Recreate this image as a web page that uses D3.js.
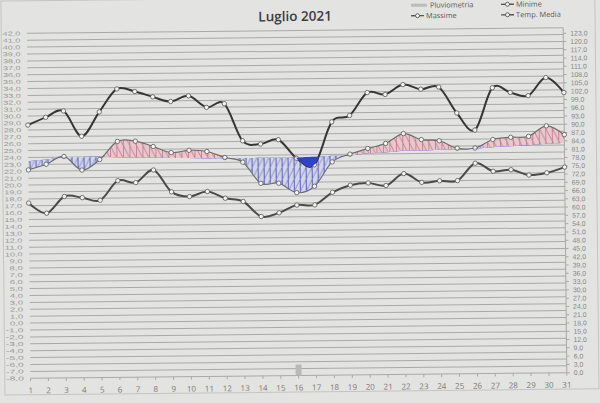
<!DOCTYPE html>
<html><head><meta charset="utf-8">
<script src="https://cdn.jsdelivr.net/npm/d3@7/dist/d3.min.js"></script>
<style>body{margin:0;background:#e3e3e1}svg{display:block}</style>
</head><body>
<svg id="c" width="600" height="403"></svg>
<script>
const days = [1,2,3,4,5,6,7,8,9,10,11,12,13,14,15,16,17,18,19,20,21,22,23,24,25,26,27,28,29,30,31];
const massime = [28.7,29.8,30.7,27.0,30.5,33.8,33.4,32.6,31.9,32.7,31.0,31.5,26.1,25.6,26.2,23.5,22.5,28.7,29.6,32.9,32.6,34.0,33.3,33.6,29.8,27.3,33.4,32.7,32.2,34.8,32.6];
const minime = [17.4,15.9,18.3,18.1,17.7,20.5,20.2,22.0,18.8,18.1,18.8,17.8,17.3,15.1,15.6,16.7,16.7,18.5,19.5,19.8,19.4,21.1,19.8,20.0,20.0,22.5,21.3,21.5,20.7,21.0,21.8];
const media = [22.2,23.0,24.1,22.1,23.6,26.2,26.2,25.4,24.5,24.8,24.6,23.7,23.0,19.9,19.9,18.5,19.4,22.9,24.0,24.8,25.5,26.9,26.0,25.8,24.7,24.7,25.9,26.2,26.3,27.8,26.5];
const normale = [23.5,23.7,24.0,24.0,24.0,23.9,23.8,23.8,23.7,23.7,23.6,23.6,23.6,23.6,23.6,23.6,23.7,23.8,23.8,24.1,24.2,24.4,24.4,24.5,24.5,24.6,24.8,24.9,25.0,25.2,25.3];
const pluviometria = [0,0,0,0,0,0,0,0,0,0,0,0,0,0,0,4,0,0,0,0,0,0,0,0,0,0,0,0,0,0,0];
const leftTicks = d3.range(-8, 43, 1);
const rightTicks = d3.range(0, 124, 3);
const legendItems = [
  {name:"Pluviometria", type:"bar", col:0, row:0},
  {name:"Minime", type:"line", col:1, row:0},
  {name:"Massime", type:"line", col:0, row:1},
  {name:"Temp. Media", type:"line", col:1, row:1}
];

const svg = d3.select("#c");
const g = svg.append("g").attr("transform","rotate(-0.6,297,203)");
const x0 = 28.7, x1 = 565, yT = 30.5, yB = 375.5;
const x = d3.scalePoint().domain(days).range([x0, x1]);
const y = d3.scaleLinear().domain([-8, 42]).range([yB, yT]);
const y2 = d3.scaleLinear().domain([0, 125]).range([yB, yT]);
const curve = d3.curveCardinal.tension(0);
const rows = days.map((d,i)=>({day:d, max:massime[i], min:minime[i], med:media[i], n:normale[i], p:pluviometria[i]}));
const fmt = d => d.toFixed(1).replace(".",",");

g.append("rect").attr("x",3).attr("y",-2).attr("width",594).attr("height",394)
 .attr("fill","none").attr("stroke","#c4c4c2").attr("stroke-width",1);

const defs = svg.append("defs");
const pr = defs.append("pattern").attr("id","hr").attr("patternUnits","userSpaceOnUse")
  .attr("width",6.5).attr("height",13);
pr.append("rect").attr("width",6.5).attr("height",13).attr("fill","#e6c9cf");
pr.append("line").attr("x1",0.5).attr("y1",0).attr("x2",0.5).attr("y2",13).attr("stroke","#c66a80").attr("stroke-width",0.8);
pr.append("line").attr("x1",0).attr("y1",0).attr("x2",6.5).attr("y2",13).attr("stroke","#c66a80").attr("stroke-width",0.8);
const pb = defs.append("pattern").attr("id","hb").attr("patternUnits","userSpaceOnUse")
  .attr("width",6).attr("height",12);
pb.append("rect").attr("width",6).attr("height",12).attr("fill","#d3d5ea");
pb.append("line").attr("x1",0.5).attr("y1",0).attr("x2",0.5).attr("y2",12).attr("stroke","#4652ae").attr("stroke-width",0.9);
pb.append("line").attr("x1",6).attr("y1",0).attr("x2",0).attr("y2",12).attr("stroke","#6a74bf").attr("stroke-width",0.7);

const clipAbove = d3.area().x(d=>x(d.day)).y0(yT-30).y1(d=>y(d.n)).curve(curve);
const clipBelow = d3.area().x(d=>x(d.day)).y0(yB+30).y1(d=>y(d.n)).curve(curve);
defs.append("clipPath").attr("id","ca").append("path").attr("d",clipAbove(rows));
defs.append("clipPath").attr("id","cb").append("path").attr("d",clipBelow(rows));

g.append("g").selectAll("line").data(leftTicks).join("line")
  .attr("x1",x0).attr("x2",x1).attr("y1",d=>y(d)).attr("y2",d=>y(d))
  .attr("stroke","#a9a9a7").attr("stroke-width",1);

g.append("g").selectAll("text").data(leftTicks).join("text")
  .attr("x",22).attr("y",d=>y(d)+2.1).attr("text-anchor","end")
  .attr("font-family","Liberation Sans, Arial, sans-serif").attr("font-size",5.6).attr("fill","#999")
  .attr("textLength",d=>fmt(d).length*4.4).attr("lengthAdjust","spacingAndGlyphs")
  .text(fmt);

g.append("line").attr("x1",x1).attr("x2",x1).attr("y1",yT).attr("y2",yB).attr("stroke","#a9a9a7");
g.append("g").selectAll("line").data(rightTicks).join("line")
  .attr("x1",x1).attr("x2",x1+3).attr("y1",d=>y2(d)).attr("y2",d=>y2(d)).attr("stroke","#a9a9a7");
g.append("g").selectAll("text").data(rightTicks).join("text")
  .attr("x",572).attr("y",d=>y2(d)+2.5).attr("text-anchor","start")
  .attr("font-family","Liberation Sans, Arial, sans-serif").attr("font-size",6.9).attr("fill","#888")
  .text(fmt);

g.append("g").selectAll("line").data(days).join("line")
  .attr("x1",d=>x(d)).attr("x2",d=>x(d)).attr("y1",yB).attr("y2",yB+3).attr("stroke","#a9a9a7");
g.append("g").selectAll("text").data(days).join("text")
  .attr("x",d=>x(d)).attr("y",yB+15).attr("text-anchor","middle")
  .attr("font-family","Open Sans, sans-serif").attr("font-size",8).attr("fill","#7a7a7a")
  .text(d=>d);

g.append("g").selectAll("rect").data(rows.filter(d=>d.p>0)).join("rect")
  .attr("x",d=>x(d.day)-3).attr("width",6).attr("y",d=>y2(d.p)).attr("height",d=>yB-y2(d.p))
  .attr("fill","#b9b9b9");

const areaMed = d3.area().x(d=>x(d.day)).y0(d=>y(d.n)).y1(d=>y(d.med)).curve(curve);
g.append("path").attr("d",areaMed(rows)).attr("fill","url(#hr)").attr("clip-path","url(#ca)");
g.append("path").attr("d",areaMed(rows)).attr("fill","url(#hb)").attr("clip-path","url(#cb)");

const lineOf = k => d3.line().x(d=>x(d.day)).y(d=>y(d[k])).curve(curve);
g.append("path").attr("d",lineOf("min")(rows)).attr("fill","none").attr("stroke","#4a4a4a").attr("stroke-width",2);
g.append("path").attr("d",lineOf("max")(rows)).attr("fill","none").attr("stroke","#363636").attr("stroke-width",2);
g.append("path").attr("d",lineOf("med")(rows)).attr("fill","none").attr("stroke","#6e6e6e").attr("stroke-width",1.2);

["min","max","med"].forEach(k=>{
  g.append("g").selectAll("circle").data(rows).join("circle")
   .attr("cx",d=>x(d.day)).attr("cy",d=>y(d[k])).attr("r",2.2)
   .attr("fill","#f4f4f4").attr("stroke","#666").attr("stroke-width",0.9);
});

const areaMax = d3.area().x(d=>x(d.day)).y0(d=>y(d.n)).y1(d=>y(d.max)).curve(curve);
g.append("path").attr("d",areaMax(rows)).attr("fill","#2f43c8").attr("clip-path","url(#cb)");

g.append("text").attr("x",297).attr("y",21).attr("text-anchor","middle")
  .attr("font-family","Open Sans, sans-serif").attr("font-size",13.5).attr("font-weight",600)
  .attr("fill","#3c3c3c").text("Luglio 2021");

const lg = g.append("g");
legendItems.forEach(it=>{
  const lx = it.col===0 ? 413 : 503;
  const ly = it.row===0 ? 6.5 : 17;
  if(it.type==="bar"){
    lg.append("line").attr("x1",lx).attr("x2",lx+16).attr("y1",ly).attr("y2",ly).attr("stroke","#bdbdbd").attr("stroke-width",3);
  } else {
    lg.append("line").attr("x1",lx).attr("x2",lx+13).attr("y1",ly).attr("y2",ly).attr("stroke","#555").attr("stroke-width",1.4);
    lg.append("circle").attr("cx",lx+6.5).attr("cy",ly).attr("r",2).attr("fill","#f4f4f4").attr("stroke","#555").attr("stroke-width",0.9);
  }
  lg.append("text").attr("x",lx+(it.type==="bar"?19:15)).attr("y",ly+2.6)
    .attr("font-family","Open Sans, sans-serif").attr("font-size",7.4).attr("fill","#5a5a5a").text(it.name);
});
</script>
</body></html>
